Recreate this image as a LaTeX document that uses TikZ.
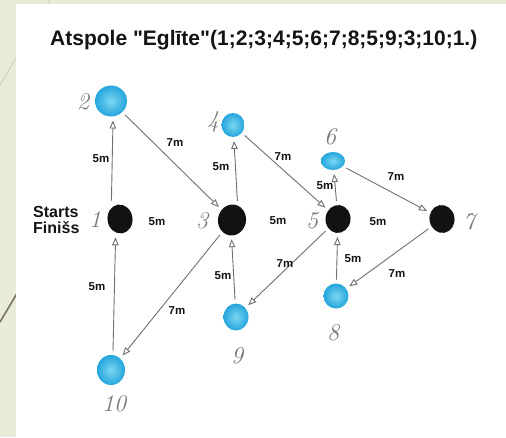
\documentclass[tikz,border=0pt]{standalone}
\usepackage{fontspec}
\setmainfont{Liberation Sans}[Ligatures=TeXOff]
\newfontfamily\hand{Latin Modern Roman}
\usetikzlibrary{arrows.meta,shapes.geometric}
\definecolor{bgc}{RGB}{231,235,216}
\definecolor{lineA}{RGB}{210,213,192}
\definecolor{lineB}{RGB}{125,115,95}
\definecolor{edgec}{RGB}{112,112,112}
\definecolor{blueout}{RGB}{36,165,220}
\definecolor{bluein}{RGB}{125,215,242}
\definecolor{blk}{RGB}{18,18,18}
\definecolor{handc}{RGB}{120,120,120}
\definecolor{txt}{RGB}{20,20,20}
\begin{document}
\begin{tikzpicture}[x=1pt,y=-1pt,
  blueblob/.style={ellipse, inner sep=0pt, inner color=bluein, outer color=blueout, outer sep=4pt},
  blackblob/.style={ellipse, inner sep=0pt, fill=blk, outer sep=4pt},
  dist/.style={font=\bfseries\fontsize{11.5}{12}\selectfont, text=txt, inner sep=0pt},
  num/.style={font=\hand\itshape\fontsize{24}{24}\selectfont, text=handc, inner sep=0pt},
  edge/.style={draw=edgec, line width=0.9pt, -{Triangle[open,length=8pt,width=6.5pt]}},
  side/.style={font=\bfseries\fontsize{16}{16}\selectfont, text=txt, inner sep=0pt, anchor=base west}
]
\useasboundingbox (0,0) rectangle (506,437);
% background
\fill[bgc] (0,0) rectangle (506,437);
\draw[lineA, line width=1.2pt] (50,0) -- (0,85);
\draw[lineB, line width=1.6pt] (22,285) -- (0,322);
\fill[white] (16,4) rectangle (506,437);

% title
\node[anchor=base west, font=\bfseries\fontsize{21}{22}\selectfont, text=txt, inner sep=0pt] (title) at (50,45) {Atspole "Eglīte"(1;2;3;4;5;6;7;8;5;9;3;10;1.)};

% start / finish
\node[side] (starts) at (33,217) {Starts};
\node[side] (finiss) at (33,233) {Finišs};

% control points
\node[blackblob, minimum width=25pt, minimum height=29pt, rotate=8] (n1) at (120,219) {};
\node[blueblob, minimum width=32pt, minimum height=31pt] (n2) at (111,101) {};
\node[blackblob, minimum width=28pt, minimum height=31pt, rotate=-10] (n3) at (232,220) {};
\node[blueblob, minimum width=23pt, minimum height=24pt] (n4) at (233,125) {};
\node[blackblob, minimum width=25pt, minimum height=28pt, rotate=-8] (n5) at (338,219) {};
\node[blueblob, minimum width=24pt, minimum height=18pt] (n6) at (333,161) {};
\node[blackblob, minimum width=25pt, minimum height=28pt, rotate=10] (n7) at (442,219) {};
\node[blueblob, minimum width=25pt, minimum height=25pt] (n8) at (336,296) {};
\node[blueblob, minimum width=25pt, minimum height=27pt] (n9) at (236,317) {};
\node[blueblob, minimum width=28pt, minimum height=30pt] (n10) at (111,370) {};

% handwritten numbers
\node[num] (l1) at (95,220) {1};
\node[num] (l2) at (83,102) {2};
\node[num] (l3) at (202,221) {3};
\node[num] (l4) at (213,122) {4};
\node[num] (l5) at (312,221) {5};
\node[num] (l6) at (330,137) {6};
\node[num] (l7) at (469,222) {7};
\node[num] (l8) at (333,333) {8};
\node[num] (l9) at (237,356) {9};
\node[num] (l10) at (114,404) {10};

% connectors
\draw[edge] ([xshift=-6pt]n1.north) -- ([xshift=2pt]n2.south);
\draw[edge] (n2) -- (n3);
\draw[edge] ([xshift=2pt]n3.north) -- ([xshift=1pt]n4.south);
\draw[edge] (n4) -- (n5);
\draw[edge] (n5) -- (n6);
\draw[edge] (n6) -- (n7);
\draw[edge] (n7) -- (n8);
\draw[edge] (n8) -- (n5);
\draw[edge] (n5) -- (n9);
\draw[edge] (n9) -- ([xshift=3pt]n3.south);
\draw[edge] (n3) -- (n10);
\draw[edge] ([xshift=2pt]n10.north) -- ([xshift=-7pt]n1.south);

% distances
\node[dist] (d12) at (101,159) {5m};
\node[dist] (d23) at (175,143) {7m};
\node[dist] (d13) at (157,222) {5m};
\node[dist] (d34) at (221,167) {5m};
\node[dist] (d45) at (283,157) {7m};
\node[dist] (d35) at (278,221) {5m};
\node[dist] (d56) at (325,186) {5m};
\node[dist] (d67) at (396,177) {7m};
\node[dist] (d57) at (378,222) {5m};
\node[dist] (d85) at (353,259) {5m};
\node[dist] (d78) at (397,274) {7m};
\node[dist] (d59) at (285,264) {7m};
\node[dist] (d93) at (223,276) {5m};
\node[dist] (d310) at (177,311) {7m};
\node[dist] (d101) at (97,287) {5m};
\end{tikzpicture}
\end{document}
